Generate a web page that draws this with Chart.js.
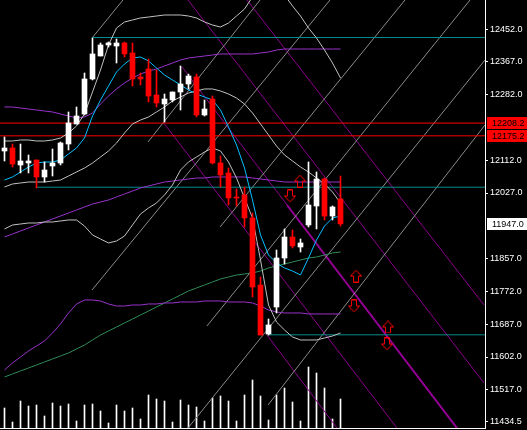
<!DOCTYPE html>
<html><head><meta charset="utf-8">
<style>html,body{margin:0;padding:0;background:#000;overflow:hidden}canvas{display:block}</style>
<script src="https://cdn.jsdelivr.net/npm/chart.js@4.4.1/dist/chart.umd.min.js"></script>
</head><body>
<canvas id="c" width="527" height="430"></canvas>
<script>
// ---- data (bar index, prices) ----
const open  = [12135.9,12143.7,12099.6,12104.8,12112.6,12068.5,12097.0,12104.8,12154.0,12205.9,12231.8,12322.5,12382.1,12410.6,12408.0,12415.8,12389.9,12327.7,12348.4,12281.0,12257.7,12268.1,12288.8,12309.5,12327.7,12229.2,12270.6,12104.8,12078.9,12016.7,12021.9,11962.3,11788.6,11661.6,11731.6,11858.6,11913.0,11887.1,11944.1,11993.4,12063.3,11967.4,12011.5];
const high  = [12172.2,12154.0,12154.0,12125.5,12112.6,12107.4,12141.1,12159.2,12237.0,12249.9,12338.0,12428.7,12415.8,12418.4,12426.1,12418.4,12415.8,12338.0,12374.3,12345.8,12283.6,12288.8,12356.2,12335.4,12335.4,12268.1,12278.4,12122.9,12091.8,12037.4,12042.6,11975.2,11809.4,11700.5,11879.3,11933.8,11931.2,11907.8,12107.4,12081.5,12065.9,11993.4,12071.1];
const low   = [12110.0,12094.4,12078.9,12078.9,12040.0,12055.5,12071.1,12099.6,12138.5,12205.9,12229.2,12319.9,12382.1,12405.4,12363.9,12379.5,12304.3,12306.9,12262.9,12249.9,12211.0,12262.9,12242.1,12296.6,12224.0,12226.6,12102.2,12042.6,11995.9,11993.4,11938.9,11757.5,11659.0,11659.0,11716.1,11843.0,11884.5,11874.1,11938.9,11933.8,11957.1,11957.1,11941.5];
const close = [12143.7,12102.2,12110.0,12110.0,12068.5,12086.6,12104.8,12156.6,12208.5,12226.6,12322.5,12387.3,12410.6,12415.8,12415.8,12387.3,12322.5,12322.5,12278.4,12260.3,12270.6,12288.8,12309.5,12330.3,12229.2,12244.7,12104.8,12073.7,12014.1,12014.1,11962.3,11783.4,11659.0,11685.0,11858.6,11913.0,11889.7,11897.5,11995.9,12063.3,11967.4,11990.8,11947.0];
const volume = [2000,600,2700,2200,2300,1200,2500,2200,2400,700,2300,2400,1700,500,2300,1700,2000,900,3300,2900,2700,600,2800,2300,2100,700,3000,3200,2700,700,3300,4800,3200,800,3300,4000,2600,700,6100,5500,4000,900,2900];

const maFast  = [12060.7,12068.5,12081.5,12094.4,12104.8,12107.4,12107.4,12112.6,12128.1,12143.7,12169.6,12226.6,12268.1,12304.3,12340.6,12361.3,12376.9,12379.5,12369.1,12351.0,12332.8,12319.9,12306.9,12294.0,12283.6,12275.8,12268.1,12242.1,12198.1,12151.4,12091.8,12008.9,11918.2,11866.4,11845.6,11832.7,11824.9,11814.5,11858.6,11905.2,11941.5,11962.3,11967.4];
const bbUpper = [12161.8,12161.8,12164.4,12164.4,12161.8,12161.8,12164.4,12169.6,12182.5,12200.7,12231.8,12288.8,12345.8,12410.6,12454.6,12470.2,12475.4,12480.6,12483.1,12485.7,12488.3,12488.3,12488.3,12485.7,12480.6,12470.2,12462.4,12457.2,12467.6,12485.7,12503.9,12535.0,12592.0,12630.9,12592.0,12540.2,12511.7,12485.7,12454.6,12428.7,12397.6,12363.9,12325.1];
const bbMid   = [12042.6,12050.4,12053.0,12055.5,12055.5,12055.5,12058.1,12060.7,12071.1,12081.5,12091.8,12104.8,12120.3,12135.9,12156.6,12182.5,12205.9,12216.2,12224.0,12237.0,12249.9,12265.5,12275.8,12286.2,12291.4,12296.6,12296.6,12291.4,12283.6,12273.2,12257.7,12234.4,12205.9,12177.4,12148.8,12125.5,12110.0,12094.4,12081.5,12065.9,12050.4,12029.6,12001.1];
const bbLower = [11933.8,11944.1,11946.7,11949.3,11949.3,11951.9,11951.9,11954.5,11957.1,11957.1,11941.5,11918.2,11907.8,11897.5,11902.6,11915.6,11944.1,11972.6,11988.2,12001.1,12021.9,12047.8,12086.6,12107.4,12120.3,12133.3,12143.7,12135.9,12107.4,12065.9,12014.1,11962.3,11853.4,11736.8,11692.7,11672.0,11653.9,11646.1,11646.1,11646.1,11651.3,11656.5,11664.2];
const maSlow1 = [12249.9,12249.9,12247.3,12244.7,12242.1,12239.5,12237.0,12231.8,12226.6,12221.4,12224.0,12234.4,12257.7,12278.4,12296.6,12312.1,12325.1,12335.4,12343.2,12348.4,12356.2,12363.9,12371.7,12376.9,12379.5,12382.1,12384.7,12387.3,12387.3,12387.3,12387.3,12387.3,12389.9,12392.4,12397.6,12400.2,12400.2,12400.2,12400.2,12400.2,12400.2,12400.2,12400.2];
const maSlow2 = [11913.0,11920.8,11928.6,11936.3,11944.1,11951.9,11959.7,11967.4,11975.2,11983.0,11990.8,11998.5,12003.7,12008.9,12016.7,12024.5,12032.2,12040.0,12045.2,12050.4,12055.5,12058.1,12060.7,12063.3,12065.9,12065.9,12068.5,12068.5,12068.5,12068.5,12068.5,12065.9,12063.3,12060.7,12058.1,12055.5,12055.5,12055.5,12055.5,12055.5,12055.5,12055.5,12055.5];
const maSlow3 = [11568.3,11586.5,11602.0,11617.6,11630.5,11643.5,11664.2,11687.6,11716.1,11739.4,11749.8,11749.8,11747.2,11739.4,11734.2,11734.2,11736.8,11736.8,11739.4,11739.4,11742.0,11742.0,11744.6,11744.6,11744.6,11747.2,11747.2,11747.2,11744.6,11744.6,11744.6,11742.0,11734.2,11723.8,11718.7,11716.1,11716.1,11716.1,11713.5,11713.5,11713.5,11713.5,11713.5];
const maGreen = [11550.2,11558.0,11565.8,11573.5,11581.3,11589.1,11596.9,11604.6,11612.4,11622.8,11633.1,11646.1,11659.0,11669.4,11679.8,11690.2,11700.5,11710.9,11721.2,11731.6,11742.0,11752.3,11762.7,11773.1,11780.9,11788.6,11796.4,11804.2,11809.4,11814.5,11817.1,11819.7,11824.9,11832.7,11837.9,11843.0,11848.2,11853.4,11858.6,11861.2,11866.4,11871.6,11874.1];

const redLevels  = [12208.2, 12175.2];
const tealLevels = [12430.0, 12042.0, 11659.5];
const tealStart  = [10.94, 3.94, 32.94];
// diagonal trend lines: [bar1, price1, bar2, price2]
const grayLines = [
  [10.94,12428.7,14.81,12527.2],
  [10.94,11775.7,40.69,12527.2],
  [17.94,12159.2,31.94,12527.2],
  [25.31,11682.4,58.19,12527.2],
  [22.94,11418.0,60.06,12371.7],
  [32.94,11477.6,60.06,12203.3],
  [26.94,11938.9,50.06,12527.2]
];
const purpleLines = [
  [22.19,12353.6,56.56,11418.0],
  [19.81,12211.0,49.06,11418.0],
  [22.94,12527.2,59.94,11534.7],
  [30.31,12527.2,59.94,11736.8],
  [32.81,11659.0,41.56,11418.0]
];
const thickLine = [35.31,11995.9,56.56,11418.0];
const upArrowBar = [36.94, 43.94, 47.94];
const upArrowPrice = [12058.1, 11811.9, 11679.8];
const dnArrowBar = [35.69, 43.69, 47.81];
const dnArrowPrice = [12019.3, 11734.2, 11635.7];
const yTicks = [12452, 12367, 12282, 12112, 12027, 11857, 11772, 11687, 11602, 11517, 11434.5];

// ---- chart ----
const N = open.length;
const X_MIN = -0.5625, X_MAX = 60.0625, Y_MIN = 11418.0, Y_MAX = 12527.2;
const cCol = open.map((o,i)=> close[i] >= o ? '#ffffff' : '#ff0000');
const pts = arr => arr.map((v,i)=>({x:i, y:v}));
function lineDS(data, color, width, order){
  return {type:'line', data, borderColor:color, borderWidth:width||1, pointRadius:0, tension:0, fill:false, order:order||5, yAxisID:'y'};
}
function arrowImg(up){
  const c=document.createElement('canvas'); c.width=12; c.height=13;
  const g=c.getContext('2d'); g.strokeStyle='#ff0000'; g.lineWidth=1;
  let p=[[6,0.5],[11.5,6.5],[8.5,6.5],[8.5,12.5],[3.5,12.5],[3.5,6.5],[0.5,6.5]];
  if(!up) p=p.map(([x,y])=>[x,13-y]);
  g.beginPath(); p.forEach(([x,y],k)=> k?g.lineTo(x,y):g.moveTo(x,y)); g.closePath(); g.stroke();
  return c;
}
const seg = l => [{x:l[0],y:l[1]},{x:l[2],y:l[3]}];
const datasets = [
  {type:'bar', data: open.map((o,i)=>({x:i,y:[o,close[i]]})), backgroundColor:cCol, barThickness:5, minBarLength:1, grouped:false, order:1, yAxisID:'y'},
  {type:'bar', data: low.map((l,i)=>({x:i,y:[l,high[i]]})), backgroundColor:cCol, barThickness:1, grouped:false, order:2, yAxisID:'y'},
  {type:'bar', data: pts(volume), backgroundColor:'#ffffff', barThickness:1, grouped:false, order:30, yAxisID:'yv'},
  lineDS(pts(bbUpper), '#c0c0c0', 1, 6),
  lineDS(pts(bbMid),   '#c0c0c0', 1, 6),
  lineDS(pts(bbLower), '#c0c0c0', 1, 6),
  lineDS(pts(maSlow1), '#9932cc', 1, 6),
  lineDS(pts(maSlow2), '#9932cc', 1, 6),
  lineDS(pts(maSlow3), '#9932cc', 1, 6),
  lineDS(pts(maGreen), '#2e8b57', 1, 6),
  lineDS(pts(maFast),  '#00bfff', 1, 5),
];
redLevels.forEach(v => datasets.push(lineDS([{x:X_MIN,y:v},{x:X_MAX,y:v}], '#ff0000', 1, 8)));
tealLevels.forEach((v,k) => datasets.push(lineDS([{x:tealStart[k],y:v},{x:X_MAX,y:v}], '#008b8b', 1, 8)));
grayLines.forEach(l => datasets.push(lineDS(seg(l), '#8a8a8a', 1, 9)));
purpleLines.forEach(l => datasets.push(lineDS(seg(l), '#8b008b', 1, 9)));
datasets.push(lineDS(seg(thickLine), '#a000a0', 2, 9));
datasets.push({type:'line', showLine:false, data: upArrowBar.map((b,k)=>({x:b,y:upArrowPrice[k]})), pointStyle:arrowImg(true), pointRadius:6, order:0, yAxisID:'y'});
datasets.push({type:'line', showLine:false, data: dnArrowBar.map((b,k)=>({x:b,y:dnArrowPrice[k]})), pointStyle:arrowImg(false), pointRadius:6, order:0, yAxisID:'y'});

const bgPlugin = {id:'bg', beforeDraw(ch){const g=ch.ctx; g.save(); g.fillStyle='#000'; g.fillRect(0,0,ch.width,ch.height); g.restore();}};
const tagPlugin = {id:'tags', afterDraw(ch){
  const g=ch.ctx, ys=ch.scales.y, x0=ch.chartArea.right+2;
  g.save(); g.font='9px "Liberation Sans", Arial, sans-serif'; g.textBaseline='middle';
  const tag=(v,bg,fg)=>{const y=Math.round(ys.getPixelForValue(v)); g.fillStyle=bg; g.fillRect(x0,y-6,40,12); g.fillStyle=fg; g.fillText(v.toFixed(1), x0+5, y+0.5);};
  redLevels.forEach(v=>tag(v,'#ff0000','#000000'));
  tag(close[N-1],'#ffffff','#000000');
  g.restore();
}};
const noPad = s => { s.paddingTop = 0; s.paddingBottom = 0; s.paddingLeft = 0; s.paddingRight = 0; };

new Chart(document.getElementById('c'), {
  type:'bar',
  data:{datasets},
  options:{
    responsive:false, animation:false, events:[], devicePixelRatio:1,
    layout:{padding:0, autoPadding:false},
    plugins:{legend:{display:false}, tooltip:{enabled:false}},
    scales:{
      x:{type:'linear', min:X_MIN, max:X_MAX, offset:false, display:true,
         ticks:{display:false}, grid:{display:false, drawTicks:false},
         border:{display:true, color:'#ffffff', width:1},
         afterFit(s){ s.height = 2; noPad(s); }},
      y:{type:'linear', position:'right', min:Y_MIN, max:Y_MAX,
         afterBuildTicks(s){ s.ticks = yTicks.map(v=>({value:v})); },
         ticks:{color:'#ffffff', autoSkip:false, padding:2, font:{family:'"Liberation Sans", Arial, sans-serif', size:9}, callback:v=>Number(v).toFixed(1)},
         grid:{display:true, drawOnChartArea:false, drawTicks:true, tickLength:3, color:'#ffffff'},
         border:{display:true, color:'#ffffff', width:1},
         afterFit(s){ s.width = 42; noPad(s); }},
      yv:{type:'linear', display:false, min:0, max:42800, afterFit(s){ noPad(s); }}
    }
  },
  plugins:[bgPlugin, tagPlugin]
});
</script>
</body></html>
